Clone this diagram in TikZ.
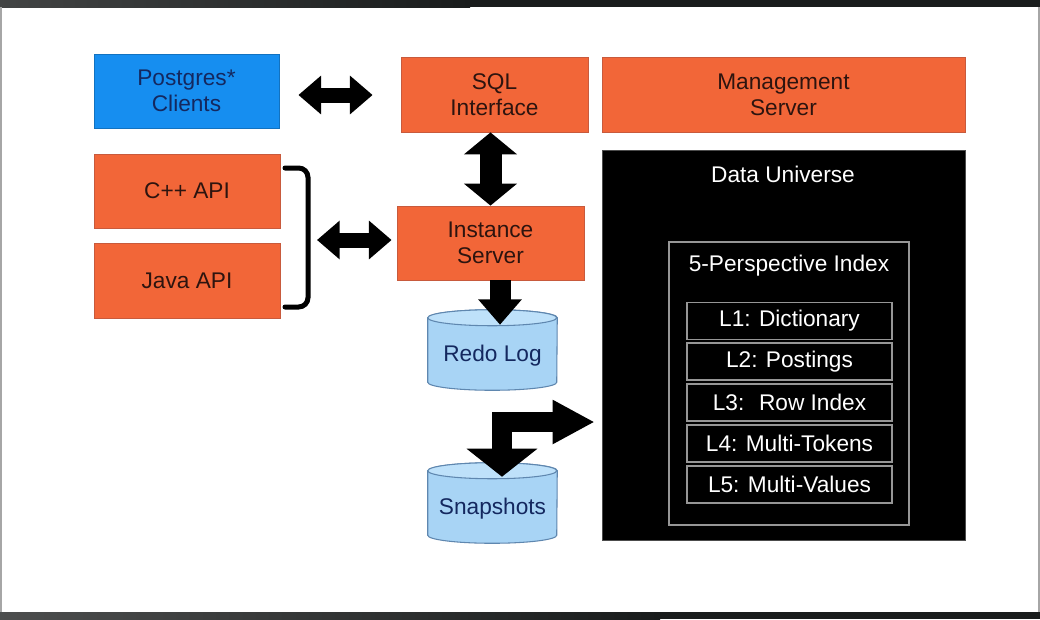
\documentclass[tikz,border=0pt]{standalone}
\usepackage{fontspec}
\setmainfont{Liberation Sans}
\usetikzlibrary{arrows.meta,calc}
\definecolor{orng}{RGB}{242,102,56}
\definecolor{orngline}{RGB}{200,90,60}
\definecolor{pgblue}{RGB}{22,142,240}
\definecolor{navy}{RGB}{20,40,95}
\definecolor{darktxt}{RGB}{45,20,15}
\definecolor{cylfill}{RGB}{168,212,245}
\definecolor{cyltop}{RGB}{190,225,250}
\definecolor{cylline}{RGB}{95,135,175}
\definecolor{idxgrey}{RGB}{150,150,150}
\definecolor{band}{RGB}{25,28,28}
\newcommand\drawcyl[1]{%
  \filldraw[fill=cylfill,draw=cylline,line width=0.8pt]
    ([yshift=-6pt]#1.north west) -- ([yshift=6pt]#1.south west)
    arc[start angle=180,end angle=360,x radius=48.375pt,y radius=6pt]
    -- ([yshift=-6pt]#1.north east)
    arc[start angle=0,end angle=180,x radius=48.375pt,y radius=6pt] -- cycle;
  \filldraw[fill=cyltop,draw=cylline,line width=0.8pt]
    ([yshift=-6pt]#1.north west)
    arc[start angle=180,end angle=540,x radius=48.375pt,y radius=6pt];
}
\begin{document}
\begin{tikzpicture}[x=0.75pt,y=-0.75pt,
  txt/.style={font=\fontsize{17}{19.5}\selectfont,align=center,inner sep=0pt},
  obox/.style={txt,rectangle,fill=orng,draw=orngline,line width=0.6pt,text=darktxt},
  bbox/.style={txt,rectangle,fill=pgblue,draw=pgblue!80!black,line width=0.6pt,text=navy},
  cylbox/.style={rectangle,inner sep=0pt,minimum width=96.75pt,minimum height=60pt},
  cyltext/.style={txt,text=navy},
  lbox/.style={txt,rectangle,draw=idxgrey,line width=1pt,text=white,minimum width=153.75pt,minimum height=27.75pt},
  hdbl/.style={line width=11.25pt,{Triangle[length=17pt,width=28pt]}-{Triangle[length=17pt,width=28pt]}},
  vdbl/.style={line width=16.5pt,{Triangle[length=16.5pt,width=39pt]}-{Triangle[length=16.5pt,width=39pt]}},
  down/.style={line width=15.75pt,-{Triangle[length=19pt,width=31.5pt]}},
  bent/.style={line width=15pt,line join=miter,{Triangle[length=31.5pt,width=31pt]}-{Triangle[length=21pt,width=52pt]}}
]
\useasboundingbox (0,0) rectangle (1040,619);
% slide background
\fill[white] (0,0) rectangle (1040,619);
\shade[left color=band!60!gray,right color=band] (0,0) rectangle (470,7);
\fill[band] (470,0) rectangle (1040,7);
\shade[left color=band!50!gray,right color=band] (0,612) rectangle (660,619);
\fill[band] (660,612) rectangle (1040,619);
\fill[gray!70] (0,7) rectangle (2,612);
\fill[gray!70] (1038,7) rectangle (1040,612);

% boxes
\node[bbox,minimum width=138.75pt,minimum height=55.5pt] (postgres) at (186.5,91) {Postgres*\\Clients};
\node[obox,minimum width=140.25pt,minimum height=56.25pt] (sql) at (494.5,94.5) {SQL\\Interface};
\node[obox,minimum width=272.25pt,minimum height=56.25pt] (mgmt) at (783.5,94.5) {Management\\Server};
\node[obox,minimum width=139.5pt,minimum height=55.5pt] (cpp) at (187,191) {C++ API};
\node[obox,minimum width=139.5pt,minimum height=56.25pt] (java) at (187,280.5) {Java API};
\node[obox,minimum width=140.25pt,minimum height=55.5pt] (inst) at (490.5,243) {Instance\\Server};

% cylinders
\node[cylbox] (redo) at (492.5,350) {};
\drawcyl{redo}
\node[cyltext] (redotext) at ([yshift=-4pt]redo.center) {Redo Log};
\node[cylbox] (snap) at (492.5,503) {};
\drawcyl{snap}
\node[cyltext] (snaptext) at ([yshift=-4pt]snap.center) {Snapshots};

% data universe
\node[rectangle,fill=black,draw=black!70,line width=0.6pt,minimum width=272.25pt,minimum height=292.5pt,inner sep=0pt] (du) at (783.5,345) {};
\node[txt,text=white,anchor=center] (dutitle) at (783,174) {Data Universe};
\node[rectangle,draw=idxgrey,line width=1pt,minimum width=180pt,minimum height=212.25pt,inner sep=0pt] (idx) at (789,383.5) {};
\node[txt,text=white] (idxtitle) at (789,266) {5-Perspective Index};
\node[lbox] (l1) at (789.5,321) {L1: Dictionary};
\node[lbox] (l2) at (789.5,361.5) {L2: Postings};
\node[lbox] (l3) at (789.5,402.5) {L3:~ Row Index};
\node[lbox] (l4) at (789.5,443.5) {L4: Multi-Tokens};
\node[lbox] (l5) at (789.5,484.5) {L5: Multi-Values};

% bracket
\draw[line width=3.75pt,rounded corners=7pt,line cap=round] (285,168) -- (308,168) -- (308,307) -- (285,307);
\coordinate (brk) at (308,240);

% connectors
\draw[hdbl] ($(postgres.east)+(19,4)$) -- ($(sql.west)+(-28,0.5)$);
\draw[vdbl] (inst.north |- sql.south) -- (inst.north);
\draw[hdbl] ($(brk)+(9,0)$) -- ($(inst.west)+(-5,-3)$);
\draw[down] ($(inst.south)+(9.5,0)$) -- ($(redo.north)+(7.5,15)$);
\coordinate (dutip) at ($(du.west)+(-7,77)$);
\coordinate (snaptip) at ($(snap.north)+(9.5,14)$);
\draw[bent] (dutip) -| (snaptip);
\end{tikzpicture}
\end{document}
